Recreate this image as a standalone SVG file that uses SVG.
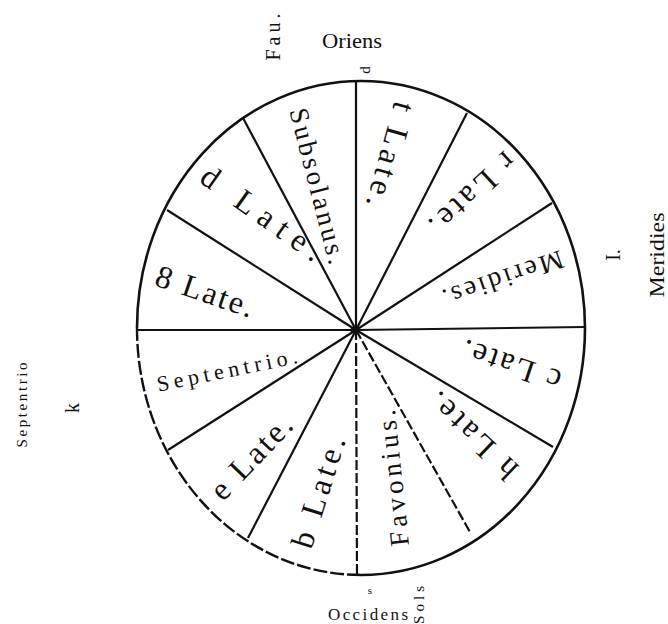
<svg xmlns="http://www.w3.org/2000/svg" width="668" height="624" viewBox="0 0 668 624">
<style>
.rim{fill:none;stroke:#111;stroke-width:2.6}
.rimd{fill:none;stroke:#111;stroke-width:2.4;stroke-dasharray:14 3}
.sp{stroke:#111;stroke-width:2.2;fill:none}
.spd{stroke:#111;stroke-width:2.2;fill:none;stroke-dasharray:10 3}
.t{font-family:"Liberation Serif","DejaVu Serif",serif;fill:#111;text-anchor:middle;dominant-baseline:central}
.big{font-size:32px}
.mid{font-size:27px}
.sm{font-size:22px}
.out{font-size:20px}
</style>
<rect width="668" height="624" fill="#fff"/>
<g id="wheel">
<path class="rim" d="M137,328 A224,247 0 0 1 585,328 A224,247 0 0 1 361,575"/>
<path class="rimd" d="M361,575 A224,247 0 0 1 137,328"/>
</g>
<g id="spokes">
<line class="sp" x1="356" y1="330" x2="356" y2="82"/>
<line class="sp" x1="356" y1="330" x2="467" y2="113"/>
<line class="sp" x1="356" y1="330" x2="552" y2="203"/>
<line class="sp" x1="356" y1="330" x2="585" y2="327"/>
<line class="sp" x1="356" y1="330" x2="553" y2="447"/>
<line class="spd" x1="356" y1="330" x2="470" y2="532"/>
<line class="spd" x1="356" y1="330" x2="357" y2="575"/>
<line class="sp" x1="356" y1="330" x2="248" y2="538"/>
<line class="sp" x1="356" y1="330" x2="168" y2="450"/>
<line class="sp" x1="356" y1="330" x2="137" y2="330"/>
<line class="sp" x1="356" y1="330" x2="167" y2="210"/>
<line class="sp" x1="356" y1="330" x2="243" y2="118"/>
<ellipse cx="355" cy="330" rx="5" ry="3" fill="#111"/>
</g>
<g id="sector-labels">
<text class="t mid" transform="translate(318,186) rotate(75.4)" textLength="160" lengthAdjust="spacing">Subsolanus.</text>
<text class="t big" transform="translate(391,155) rotate(105.5)" textLength="108" lengthAdjust="spacing">t Late.</text>
<text class="t big" transform="translate(473,194) rotate(137)" textLength="106" lengthAdjust="spacing">r Late.</text>
<text class="t mid" transform="translate(503,279) rotate(161)" textLength="126" lengthAdjust="spacing">Meridies.</text>
<text class="t big" transform="translate(511,366) rotate(198.6)" textLength="103" lengthAdjust="spacing">c Late.</text>
<text class="t big" transform="translate(472,436) rotate(223.7)" textLength="112" lengthAdjust="spacing">h Late.</text>
<text class="t mid" transform="translate(393,478) rotate(264)" textLength="137" lengthAdjust="spacing">Favonius.</text>
<text class="t big" transform="translate(318,492) rotate(-72.5)" textLength="115" lengthAdjust="spacing">b Late.</text>
<text class="t big" transform="translate(251,457) rotate(-46.4)" textLength="104" lengthAdjust="spacing">e Late.</text>
<text class="t sm" transform="translate(227,370) rotate(-11.6)" textLength="143" lengthAdjust="spacing">Septentrio.</text>
<text class="t big" transform="translate(205,291) rotate(18.9)" textLength="102" lengthAdjust="spacing">8 Late.</text>
<text class="t big" transform="translate(262,213) rotate(35.3)" textLength="141" lengthAdjust="spacing">d Late.</text>
</g>
<g id="outer-labels">
<text class="t out" x="352" y="41" textLength="60" lengthAdjust="spacingAndGlyphs">Oriens</text>
<text class="t out" transform="translate(273,37) rotate(-90)" textLength="47" lengthAdjust="spacing">Fau.</text>
<text class="t" style="font-size:15px" transform="translate(365,70) rotate(-90)">d</text>
<text class="t out" transform="translate(657,255) rotate(-90)" textLength="85" lengthAdjust="spacingAndGlyphs">Meridies</text>
<text class="t out" transform="translate(613,255) rotate(-90)">I.</text>
<text class="t" style="font-size:15px" transform="translate(22,405) rotate(-90)" textLength="85" lengthAdjust="spacing">Septentrio</text>
<text class="t out" transform="translate(72,408) rotate(-90)">k</text>
<text class="t" style="font-size:11px" x="370" y="590">s</text>
<text class="t" style="font-size:17px" x="368" y="614" textLength="80" lengthAdjust="spacing">Occidens</text>
<text class="t" style="font-size:15px" transform="translate(419,605) rotate(-90)" textLength="38" lengthAdjust="spacing">Sols</text>
</g>
</svg>
